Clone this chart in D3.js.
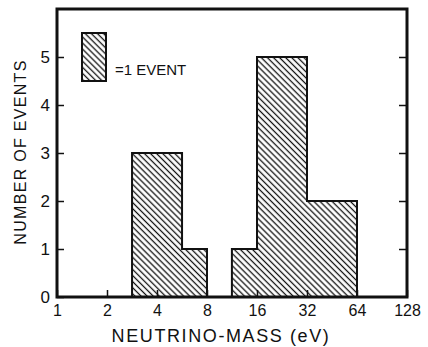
<!DOCTYPE html>
<html>
<head>
<meta charset="utf-8">
<script src="https://cdn.jsdelivr.net/npm/d3@7"></script>
<style>
  body { margin: 0; background: #fff; }
  svg { display: block; font-family: "Liberation Sans", Arial, sans-serif; }
</style>
</head>
<body>
<svg id="chart" width="428" height="347"></svg>
<script>
// Histogram bins (eV) and counts
const binStart = [2.83, 5.66, 11.3, 16, 32];
const binEnd = [5.66, 8, 16, 32, 64];
const counts = [3, 1, 1, 5, 2];

const xTicks = [1, 2, 4, 8, 16, 32, 64, 128];
const yTicks = [0, 1, 2, 3, 4, 5];

const margin = { top: 9, right: 21, bottom: 50, left: 57 };
const width = 428, height = 347;
const ink = "#111";

const $svg = d3.select("#chart");

const x = d3.scaleLog().base(2)
    .domain([1, 128])
    .range([margin.left, width - margin.right]);

const y = d3.scaleLinear()
    .domain([0, 6])
    .range([height - margin.bottom, margin.top]);

// Hatch pattern
const defs = $svg.append("defs");
defs.append("pattern")
    .attr("id", "hatch")
    .attr("patternUnits", "userSpaceOnUse")
    .attr("width", 8)
    .attr("height", 4.3)
    .attr("patternTransform", "rotate(45)")
  .append("line")
    .attr("x1", 0).attr("x2", 8)
    .attr("y1", 2.15).attr("y2", 2.15)
    .attr("stroke", ink)
    .attr("stroke-width", 1.3);

// Group contiguous bins into step outlines
const groups = [];
binStart.forEach((s, i) => {
    const d = { start: s, end: binEnd[i], count: counts[i] };
    if (i > 0 && s === binEnd[i - 1]) groups[groups.length - 1].push(d);
    else groups.push([d]);
});

const area = d3.area()
    .curve(d3.curveStepAfter)
    .x(d => x(d[0]))
    .y0(y(0))
    .y1(d => y(d[1]));

const $bars = $svg.append("g");
$bars.selectAll("path")
  .data(groups.map(g => {
      const pts = g.map(d => [d.start, d.count]);
      pts.push([g[g.length - 1].end, g[g.length - 1].count]);
      return pts;
  }))
  .join("path")
    .attr("d", area)
    .attr("fill", "url(#hatch)")
    .attr("stroke", ink)
    .attr("stroke-width", 2)
    .attr("stroke-linejoin", "miter");

// Axes
const xAxis = d3.axisBottom(x)
    .tickValues(xTicks)
    .tickFormat(d3.format("d"))
    .tickSizeInner(-7)
    .tickSizeOuter(0)
    .tickPadding(8);

const yAxis = d3.axisLeft(y)
    .tickValues(yTicks)
    .tickFormat(d3.format("d"))
    .tickSizeInner(-7)
    .tickSizeOuter(0)
    .tickPadding(7);

const yAxisRight = d3.axisRight(y)
    .tickValues(yTicks.slice(1))
    .tickFormat("")
    .tickSizeInner(-8)
    .tickSizeOuter(0);

function styleAxis(g, size) {
    g.select(".domain").remove();
    g.selectAll("line").attr("stroke", ink).attr("stroke-width", 1.5);
    g.selectAll("text")
      .attr("fill", ink)
      .style("font-family", "'Liberation Sans', Arial, sans-serif")
      .style("font-size", size + "px");
}

$svg.append("g")
    .attr("transform", `translate(0,${y(0)})`)
    .call(xAxis)
    .call(styleAxis, 16);

$svg.append("g")
    .attr("transform", `translate(${x(1)},0)`)
    .call(yAxis)
    .call(styleAxis, 17);

$svg.append("g")
    .attr("transform", `translate(${x(128)},0)`)
    .call(yAxisRight)
    .call(styleAxis, 17);

// Frame
$svg.append("rect")
    .attr("x", x(1))
    .attr("y", y(6))
    .attr("width", x(128) - x(1))
    .attr("height", y(0) - y(6))
    .attr("fill", "none")
    .attr("stroke", ink)
    .attr("stroke-width", 3);

// Legend
$svg.append("rect")
    .attr("x", 82)
    .attr("y", 33)
    .attr("width", 24)
    .attr("height", y(0) - y(1))
    .attr("fill", "url(#hatch)")
    .attr("stroke", ink)
    .attr("stroke-width", 2);

$svg.append("text")
    .attr("x", 115)
    .attr("y", 75)
    .attr("fill", ink)
    .style("font-size", "15px")
    .text("=1 EVENT");

// Axis titles
$svg.append("text")
    .attr("x", 221)
    .attr("y", 342)
    .attr("text-anchor", "middle")
    .attr("fill", ink)
    .style("font-size", "18px")
    .style("letter-spacing", "1.6px")
    .text("NEUTRINO-MASS (eV)");

$svg.append("text")
    .attr("transform", "translate(26,152) rotate(-90)")
    .attr("text-anchor", "middle")
    .attr("fill", ink)
    .style("font-size", "16px")
    .style("letter-spacing", "1.3px")
    .text("NUMBER OF EVENTS");
</script>
</body>
</html>
